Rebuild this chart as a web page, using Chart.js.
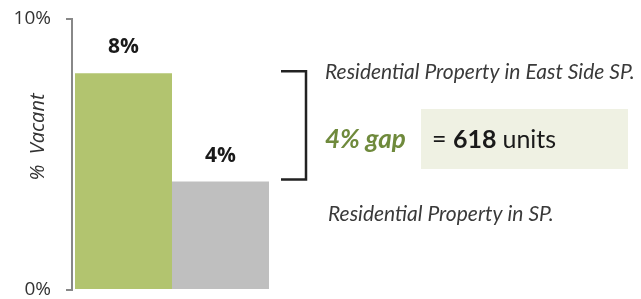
<!DOCTYPE html>
<html>
<head>
<meta charset="utf-8">
<script src="https://cdn.jsdelivr.net/npm/chart.js@4"></script>
<style>
    html, body { margin: 0; padding: 0; background: #fff; }
    #wrap { width: 641px; height: 299px; }
</style>
</head>
<body>
<div id="wrap"><canvas id="vacancy-chart" width="641" height="299"></canvas></div>
<script>
// chart values
const categories = [''];
const seriesNames = ['Residential Property in East Side SP.', 'Residential Property in SP.'];
const vacancyValues = [8, 4];
const tickValues = [0, 10];
const gapText = '4% gap';
const unitsValue = '618';


const LEFT_FONT = '"Open Sans", sans-serif';
const RIGHT_FONT = 'Lato, "Open Sans", sans-serif';

const barLabels = {
    id: 'bar_labels',
    afterDatasetsDraw: chart => {
        const ctx = chart.ctx;
        ctx.save();
        ctx.font = 'bold 21px ' + LEFT_FONT;
        ctx.fillStyle = '#1a1a1a';
        ctx.textAlign = 'center';
        ctx.textBaseline = 'middle';
        chart.data.datasets.forEach((ds, i) => {
            const bar = chart.getDatasetMeta(i).data[0];
            ctx.fillText(ds.data[0] + '%', bar.x, bar.y - 26);
        });
        ctx.restore();
    },
};

const sideNotes = {
    id: 'side_notes',
    afterDraw: chart => {
        const ctx = chart.ctx;
        const y = chart.scales.y;
        const yTop = y.getPixelForValue(vacancyValues[0]) - 2;
        const yBottom = y.getPixelForValue(vacancyValues[1]) - 2;
        ctx.save();

        // y axis title
        ctx.font = 'italic 20px ' + LEFT_FONT;
        ctx.fillStyle = '#333';
        ctx.textAlign = 'center';
        ctx.textBaseline = 'middle';
        ctx.translate(38, 137);
        ctx.rotate(-Math.PI / 2);
        ctx.fillText('%  Vacant', 0, 0);
        ctx.setTransform(1, 0, 0, 1, 0, 0);

        // bracket
        ctx.strokeStyle = '#222';
        ctx.lineWidth = 2.5;
        ctx.beginPath();
        ctx.moveTo(281, yTop);
        ctx.lineTo(306, yTop);
        ctx.lineTo(306, yBottom);
        ctx.lineTo(281, yBottom);
        ctx.stroke();

        // series notes
        ctx.font = 'italic 21px ' + RIGHT_FONT;
        ctx.fillStyle = '#3a3a3a';
        ctx.textAlign = 'left';
        ctx.fillText(seriesNames[0], 325, 72);
        ctx.fillText(seriesNames[1], 328, 214);

        // gap box
        ctx.fillStyle = '#eff1e3';
        ctx.fillRect(421, 109, 207, 60);

        ctx.font = 'italic bold 26px ' + RIGHT_FONT;
        ctx.fillStyle = '#6f8a3c';
        ctx.fillText(gapText, 325, 140);

        ctx.fillStyle = '#1a1a1a';
        ctx.font = '25px ' + RIGHT_FONT;
        let x = 432;
        ctx.fillText('= ', x, 140);
        x += ctx.measureText('= ').width;
        ctx.font = 'bold 25px ' + RIGHT_FONT;
        ctx.fillText(unitsValue, x, 140);
        x += ctx.measureText(unitsValue + ' ').width;
        ctx.font = '25px ' + RIGHT_FONT;
        ctx.fillText('units', x, 140);

        ctx.restore();
    },
};

const config = {
    type: 'bar',
    data: {
        labels: categories,
        datasets: [
            {
                label: seriesNames[0],
                data: [vacancyValues[0]],
                backgroundColor: '#b2c46f',
            },
            {
                label: seriesNames[1],
                data: [vacancyValues[1]],
                backgroundColor: '#bfbfbf',
            },
        ],
    },
    options: {
        responsive: false,
        animation: false,
        layout: { padding: { top: 19, bottom: 9, right: 369, left: 0 } },
        datasets: {
            bar: { barPercentage: 1, categoryPercentage: 0.97 },
        },
        plugins: {
            legend: { display: false },
            tooltip: { enabled: false },
        },
        scales: {
            x: { display: false },
            y: {
                min: 0,
                max: 10,
                afterFit: scale => {
                    scale.width = 72;
                    scale.paddingTop = 0;
                    scale.paddingBottom = 0;
                },
                afterBuildTicks: scale => { scale.ticks = tickValues.map(v => ({ value: v })); },
                ticks: {
                    padding: 15,
                    color: '#333',
                    font: { family: LEFT_FONT, size: 19 },
                    callback: v => v + '%',
                },
                grid: {
                    drawOnChartArea: false,
                    drawTicks: true,
                    tickLength: 6,
                    color: '#888',
                    lineWidth: 2,
                },
                border: { color: '#888', width: 2 },
            },
        },
    },
    plugins: [barLabels, sideNotes],
};

new Chart(document.getElementById('vacancy-chart'), config);
</script>
</body>
</html>
